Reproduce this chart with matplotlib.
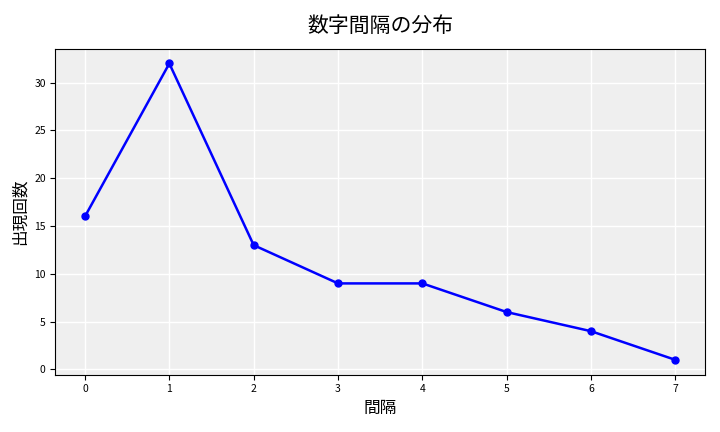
import matplotlib
matplotlib.use("Agg")
import matplotlib.pyplot as plt

plt.rcParams['font.family'] = ['Noto Sans CJK JP', 'DejaVu Sans']

intervals = [0, 1, 2, 3, 4, 5, 6, 7]
counts = [16, 32, 13, 9, 9, 6, 4, 1]

fig, ax = plt.subplots(figsize=(7.2, 4.32), dpi=100)
ax.set_facecolor("#efefef")
ax.plot(intervals, counts, color="blue", marker="o", markersize=5, linewidth=1.8)
ax.grid(color="white", linewidth=1)
ax.set_axisbelow(True)
ax.set_title("数字間隔の分布", fontsize=15, pad=12)
ax.set_xlabel("間隔", fontsize=12)
ax.set_ylabel("出現回数", fontsize=12)
ax.tick_params(labelsize=7.5)
fig.tight_layout()
fig.subplots_adjust(left=0.077)
fig.savefig("out.png", dpi=100)
